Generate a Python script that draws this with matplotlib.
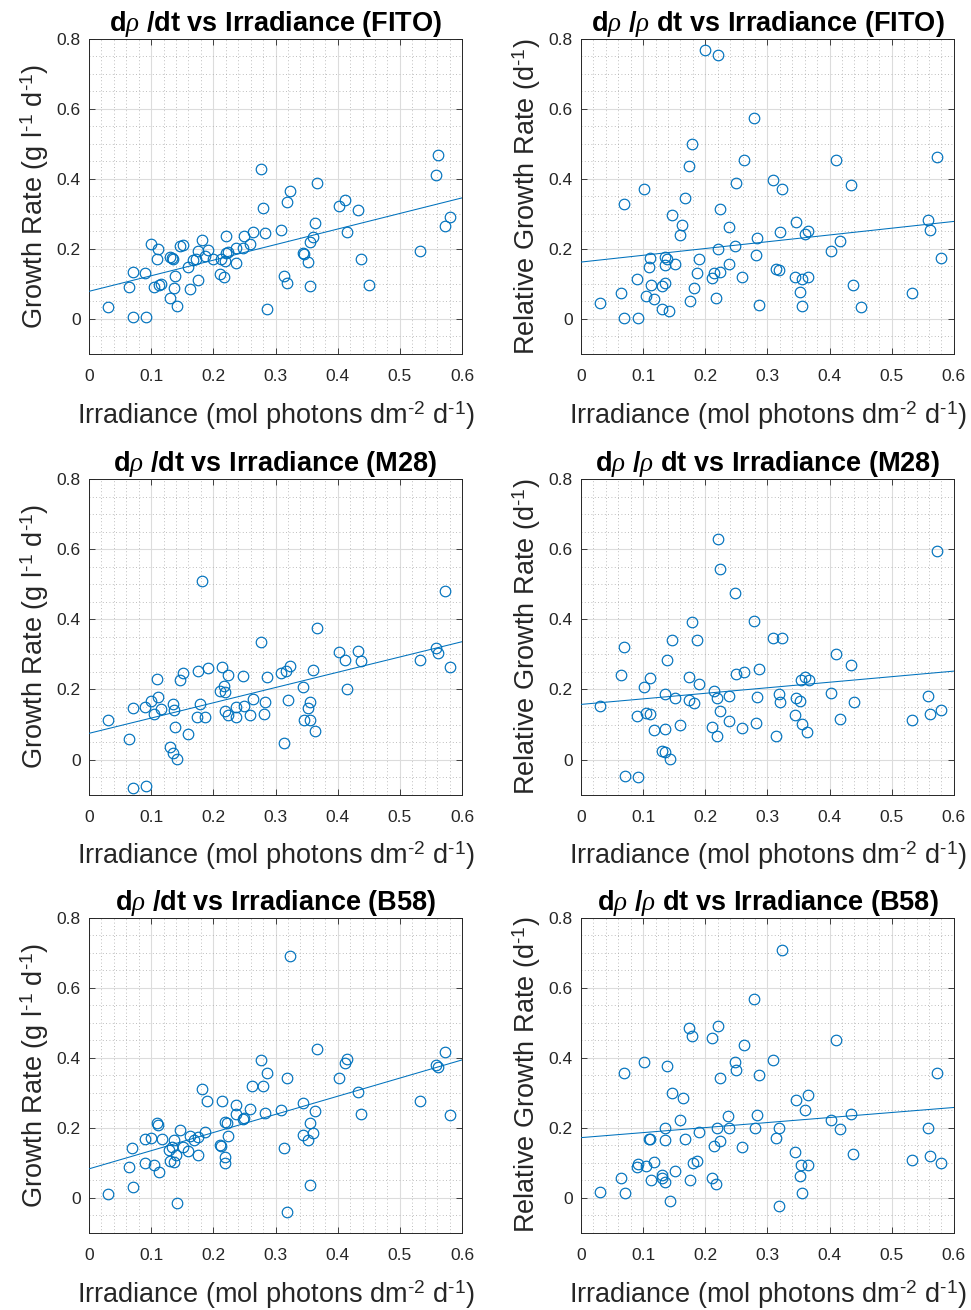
import matplotlib
matplotlib.use('Agg')
import matplotlib.pyplot as plt
from matplotlib.ticker import MultipleLocator
import numpy as np

# irradiance (mol photons dm-2 d-1) and growth values
irr_fito_abs = [0.031, 0.071, 0.091, 0.064, 0.070, 0.090, 0.100, 0.111, 0.110, 0.104, 0.112, 0.116,
                0.130, 0.142, 0.137, 0.139, 0.130, 0.135, 0.134, 0.147, 0.151, 0.160, 0.162, 0.175,
                0.167, 0.172, 0.176, 0.182, 0.187, 0.192, 0.199, 0.210, 0.217, 0.213, 0.219, 0.221,
                0.223, 0.220, 0.237, 0.237, 0.248, 0.249, 0.259, 0.263, 0.277, 0.280, 0.283, 0.287,
                0.309, 0.313, 0.318, 0.319, 0.323, 0.344, 0.346, 0.352, 0.356, 0.355, 0.360, 0.363,
                0.366, 0.402, 0.411, 0.415, 0.433, 0.438, 0.450, 0.532, 0.558, 0.561, 0.573, 0.580]
gr_fito_abs = [0.033, 0.006, 0.006, 0.090, 0.134, 0.130, 0.215, 0.200, 0.170, 0.090, 0.097, 0.100,
               0.060, 0.037, 0.088, 0.122, 0.176, 0.170, 0.175, 0.208, 0.212, 0.149, 0.085, 0.110,
               0.168, 0.170, 0.193, 0.225, 0.181, 0.198, 0.171, 0.127, 0.120, 0.171, 0.165, 0.187,
               0.191, 0.236, 0.159, 0.203, 0.203, 0.238, 0.215, 0.249, 0.427, 0.317, 0.245, 0.028,
               0.254, 0.124, 0.103, 0.335, 0.366, 0.187, 0.186, 0.162, 0.094, 0.220, 0.233, 0.275,
               0.388, 0.322, 0.341, 0.247, 0.312, 0.170, 0.096, 0.195, 0.411, 0.467, 0.265, 0.292]

irr_fito_rel = [0.031, 0.070, 0.091, 0.065, 0.069, 0.090, 0.101, 0.105, 0.111, 0.110, 0.113, 0.118,
                0.130, 0.131, 0.135, 0.135, 0.138, 0.136, 0.142, 0.147, 0.151, 0.159, 0.163, 0.167,
                0.174, 0.179, 0.175, 0.182, 0.187, 0.190, 0.199, 0.211, 0.214, 0.218, 0.220, 0.221,
                0.224, 0.224, 0.238, 0.238, 0.249, 0.248, 0.259, 0.262, 0.279, 0.282, 0.283, 0.287,
                0.309, 0.313, 0.319, 0.320, 0.323, 0.345, 0.346, 0.353, 0.356, 0.356, 0.360, 0.365,
                0.366, 0.403, 0.411, 0.417, 0.434, 0.438, 0.450, 0.532, 0.558, 0.562, 0.573, 0.580]
gr_fito_rel = [0.046, 0.002, 0.004, 0.075, 0.327, 0.115, 0.370, 0.065, 0.175, 0.148, 0.097, 0.057,
               0.029, 0.095, 0.103, 0.176, 0.170, 0.153, 0.022, 0.298, 0.157, 0.241, 0.267, 0.345,
               0.438, 0.500, 0.050, 0.089, 0.130, 0.172, 0.768, 0.117, 0.131, 0.059, 0.201, 0.755,
               0.314, 0.134, 0.158, 0.262, 0.389, 0.207, 0.120, 0.454, 0.573, 0.183, 0.232, 0.041,
               0.396, 0.144, 0.141, 0.249, 0.370, 0.120, 0.277, 0.076, 0.114, 0.036, 0.244, 0.120,
               0.252, 0.194, 0.455, 0.224, 0.384, 0.098, 0.034, 0.074, 0.284, 0.255, 0.464, 0.173]

irr_m28_abs = [0.031, 0.065, 0.070, 0.071, 0.091, 0.090, 0.100, 0.104, 0.110, 0.111, 0.116, 0.130,
               0.135, 0.142, 0.139, 0.135, 0.137, 0.147, 0.151, 0.160, 0.175, 0.173, 0.178, 0.187,
               0.191, 0.210, 0.214, 0.217, 0.219, 0.219, 0.223, 0.223, 0.237, 0.237, 0.247, 0.250,
               0.259, 0.263, 0.277, 0.281, 0.283, 0.287, 0.309, 0.313, 0.317, 0.320, 0.323, 0.345,
               0.346, 0.355, 0.352, 0.356, 0.361, 0.363, 0.366, 0.402, 0.411, 0.415, 0.433, 0.438,
               0.532, 0.558, 0.561, 0.573, 0.580, 0.182]
gr_m28_abs = [0.114, 0.059, 0.147, -0.081, -0.075, 0.150, 0.167, 0.131, 0.230, 0.178, 0.144, 0.036,
              0.019, 0.001, 0.093, 0.159, 0.142, 0.226, 0.248, 0.072, 0.252, 0.121, 0.158, 0.121,
              0.262, 0.196, 0.264, 0.211, 0.192, 0.138, 0.128, 0.241, 0.121, 0.150, 0.239, 0.154,
              0.126, 0.172, 0.336, 0.129, 0.164, 0.235, 0.246, 0.047, 0.254, 0.171, 0.268, 0.207,
              0.112, 0.164, 0.148, 0.114, 0.257, 0.082, 0.376, 0.306, 0.284, 0.201, 0.311, 0.282,
              0.285, 0.318, 0.305, 0.480, 0.265, 0.510]

irr_m28_rel = [0.031, 0.065, 0.069, 0.071, 0.091, 0.090, 0.101, 0.105, 0.111, 0.111, 0.118, 0.130,
               0.135, 0.143, 0.136, 0.135, 0.139, 0.147, 0.151, 0.159, 0.174, 0.174, 0.182, 0.179,
               0.187, 0.190, 0.211, 0.214, 0.219, 0.219, 0.223, 0.220, 0.224, 0.238, 0.238, 0.249,
               0.248, 0.259, 0.263, 0.278, 0.281, 0.283, 0.287, 0.309, 0.314, 0.318, 0.320, 0.323,
               0.345, 0.346, 0.353, 0.356, 0.364, 0.354, 0.360, 0.367, 0.403, 0.411, 0.416, 0.434,
               0.439, 0.532, 0.558, 0.561, 0.573, 0.580]
gr_m28_rel = [0.154, 0.240, 0.320, -0.047, -0.050, 0.124, 0.207, 0.133, 0.233, 0.129, 0.085, 0.025,
              0.022, 0.001, 0.186, 0.086, 0.284, 0.342, 0.175, 0.099, 0.235, 0.171, 0.162, 0.393,
              0.341, 0.215, 0.093, 0.195, 0.175, 0.066, 0.138, 0.631, 0.544, 0.180, 0.110, 0.243,
              0.476, 0.091, 0.251, 0.397, 0.105, 0.179, 0.259, 0.346, 0.066, 0.187, 0.164, 0.346,
              0.127, 0.177, 0.168, 0.102, 0.080, 0.226, 0.237, 0.228, 0.191, 0.300, 0.116, 0.271,
              0.163, 0.114, 0.180, 0.130, 0.595, 0.141]

irr_b58_abs = [0.031, 0.064, 0.070, 0.069, 0.090, 0.090, 0.100, 0.105, 0.112, 0.110, 0.111, 0.117,
               0.128, 0.136, 0.134, 0.130, 0.136, 0.140, 0.142, 0.147, 0.151, 0.159, 0.163, 0.169,
               0.176, 0.176, 0.182, 0.187, 0.190, 0.210, 0.212, 0.214, 0.219, 0.219, 0.219, 0.222,
               0.223, 0.236, 0.237, 0.247, 0.249, 0.259, 0.262, 0.277, 0.280, 0.283, 0.287, 0.309,
               0.313, 0.318, 0.319, 0.323, 0.345, 0.345, 0.352, 0.355, 0.356, 0.361, 0.363, 0.366,
               0.402, 0.411, 0.415, 0.433, 0.438, 0.532, 0.558, 0.561, 0.573, 0.580]
gr_b58_abs = [0.011, 0.087, 0.032, 0.142, 0.100, 0.169, 0.170, 0.094, 0.072, 0.212, 0.208, 0.169,
              0.136, 0.165, 0.146, 0.106, 0.103, 0.122, -0.015, 0.192, 0.146, 0.133, 0.176, 0.165,
              0.172, 0.122, 0.311, 0.189, 0.277, 0.150, 0.149, 0.276, 0.115, 0.098, 0.217, 0.212,
              0.177, 0.265, 0.239, 0.224, 0.227, 0.253, 0.320, 0.394, 0.319, 0.242, 0.355, 0.250,
              0.142, 0.341, -0.042, 0.690, 0.271, 0.180, 0.165, 0.214, 0.036, 0.186, 0.249, 0.424,
              0.341, 0.384, 0.395, 0.303, 0.239, 0.275, 0.379, 0.374, 0.416, 0.237]

irr_b58_rel = [0.031, 0.064, 0.071, 0.070, 0.090, 0.091, 0.101, 0.105, 0.111, 0.110, 0.113, 0.117,
               0.130, 0.131, 0.136, 0.136, 0.135, 0.139, 0.143, 0.147, 0.151, 0.159, 0.164, 0.168,
               0.174, 0.179, 0.176, 0.181, 0.187, 0.190, 0.211, 0.211, 0.214, 0.218, 0.219, 0.220,
               0.223, 0.223, 0.237, 0.238, 0.248, 0.249, 0.259, 0.262, 0.278, 0.280, 0.283, 0.286,
               0.309, 0.313, 0.318, 0.319, 0.323, 0.345, 0.346, 0.354, 0.353, 0.356, 0.360, 0.365,
               0.366, 0.403, 0.411, 0.416, 0.434, 0.438, 0.532, 0.558, 0.561, 0.573, 0.580]
gr_b58_rel = [0.017, 0.055, 0.013, 0.356, 0.089, 0.097, 0.389, 0.091, 0.168, 0.169, 0.050, 0.103,
              0.066, 0.055, 0.044, 0.198, 0.165, 0.375, -0.010, 0.298, 0.076, 0.221, 0.285, 0.167,
              0.486, 0.461, 0.052, 0.100, 0.106, 0.188, 0.457, 0.055, 0.149, 0.040, 0.198, 0.490,
              0.163, 0.343, 0.232, 0.200, 0.387, 0.365, 0.144, 0.437, 0.569, 0.198, 0.235, 0.350,
              0.393, 0.170, 0.198, -0.025, 0.707, 0.131, 0.278, 0.092, 0.063, 0.013, 0.251, 0.092,
              0.292, 0.222, 0.451, 0.197, 0.238, 0.124, 0.108, 0.200, 0.118, 0.356, 0.099]

strains = ['FITO', 'M28', 'B58']
blue = '#0072BD'
dark = '#262626'

plt.rcParams['font.family'] = ['Liberation Sans', 'DejaVu Sans']
plt.rcParams['mathtext.fontset'] = 'custom'
plt.rcParams['mathtext.rm'] = 'Liberation Sans'
plt.rcParams['mathtext.it'] = 'Liberation Serif:italic'
plt.rcParams['mathtext.bf'] = 'Liberation Sans:bold'

panels = [
    (irr_fito_abs, gr_fito_abs, irr_fito_rel, gr_fito_rel),
    (irr_m28_abs, gr_m28_abs, irr_m28_rel, gr_m28_rel),
    (irr_b58_abs, gr_b58_abs, irr_b58_rel, gr_b58_rel),
]

fig = plt.figure(figsize=(9.71, 13.10), dpi=100)
bottoms = [0.7298, 0.3935, 0.0590]
lefts = [0.0917, 0.5983]
w, h = 0.3841, 0.2405

xlab = r'Irradiance (mol photons dm$^{\text{-}2}$ d$^{\text{-}1}$)'
for row, (xa, ya, xr, yr) in enumerate(panels):
    name = strains[row]
    for col in range(2):
        ax = fig.add_axes([lefts[col], bottoms[row], w, h])
        if col == 0:
            x, y = np.array(xa), np.array(ya)
            title = r'd$\rho$ /dt vs Irradiance (' + name + ')'
            ylab = r'Growth Rate (g l$^{\text{-}1}$ d$^{\text{-}1}$)'
        else:
            x, y = np.array(xr), np.array(yr)
            title = r'd$\rho$ /$\rho$ dt vs Irradiance (' + name + ')'
            ylab = r'Relative Growth Rate (d$^{\text{-}1}$)'

        ax.plot(x, y, 'o', mfc='none', mec=blue, ms=7.6, mew=0.85, zorder=3)
        # linear fit
        p = np.polyfit(x, y, 1)
        xf = np.array([0, 0.6])
        ax.plot(xf, np.polyval(p, xf), '-', color=blue, lw=0.75, zorder=3)

        ax.set_xlim(0, 0.6)
        ax.set_ylim(-0.1, 0.8)
        ax.set_xticks(np.arange(0, 0.61, 0.1))
        ax.set_xticklabels(['0', '0.1', '0.2', '0.3', '0.4', '0.5', '0.6'])
        ax.set_yticks([0, 0.2, 0.4, 0.6, 0.8])
        ax.set_yticklabels(['0', '0.2', '0.4', '0.6', '0.8'])
        ax.xaxis.set_minor_locator(MultipleLocator(0.02))
        ax.yaxis.set_minor_locator(MultipleLocator(0.05))
        ax.grid(which='major', color='#dcdcdc', lw=0.8, ls='-')
        ax.grid(which='minor', color='#a8a8a8', lw=0.6, ls=(0, (1, 3)))
        ax.set_axisbelow(True)
        ax.tick_params(which='both', direction='in', top=True, right=True, colors=dark,
                       labelsize=12.5, width=0.6)
        ax.tick_params(which='major', length=4)
        ax.tick_params(axis='x', which='major', pad=11)
        ax.tick_params(axis='y', which='major', pad=6)
        ax.tick_params(which='minor', length=0)
        for s in ax.spines.values():
            s.set_color(dark)
            s.set_linewidth(0.7)

        ax.set_title(title, fontsize=19.5, fontweight='bold', pad=5)
        ax.set_xlabel(xlab, fontsize=19.5, color=dark, labelpad=11)
        ax.set_ylabel(ylab, fontsize=19.5, color=dark, labelpad=4)

plt.savefig('out.png', dpi=100)
